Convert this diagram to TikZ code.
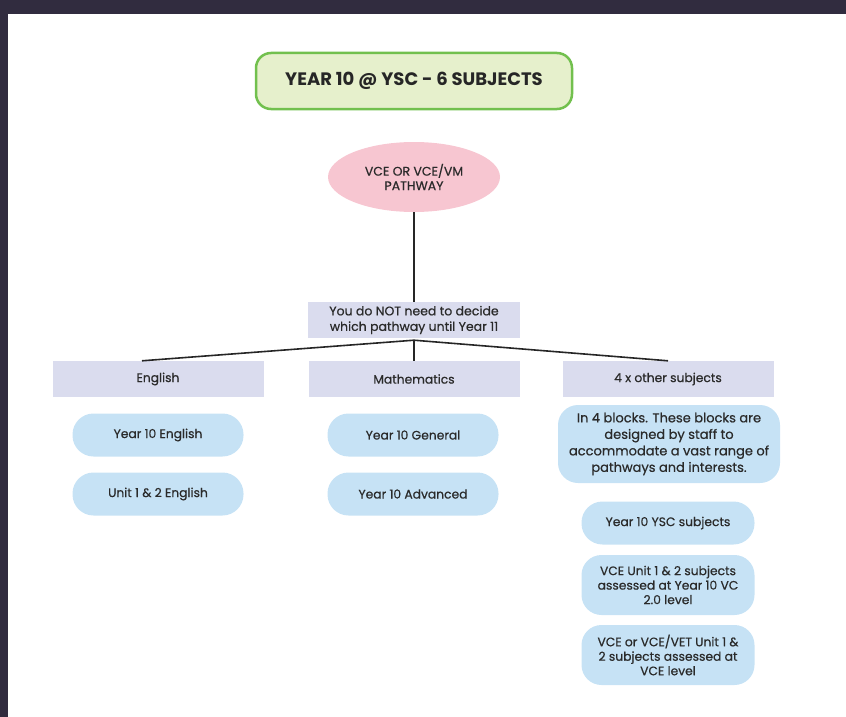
\documentclass[tikz,border=0pt]{standalone}
\usepackage{fontspec}
\setmainfont{Poppins}
\newfontfamily\medfont{Poppins}[FakeBold=0.6]
\usetikzlibrary{shapes.geometric,calc}
\definecolor{frame}{HTML}{312C3F}
\definecolor{titlefill}{HTML}{E6F0CC}
\definecolor{titleline}{HTML}{72C04E}
\definecolor{pinkfill}{HTML}{F7C6D1}
\definecolor{lavfill}{HTML}{DADCEE}
\definecolor{bluefill}{HTML}{C6E2F5}
\definecolor{txt}{HTML}{2A2A2A}
\begin{document}
\begin{tikzpicture}[x=1pt,y=-1pt,
  every node/.style={text=txt, font=\medfont\fontsize{12.3}{14.5}\selectfont, align=center, inner sep=0pt},
  catbox/.style={fill=lavfill, minimum width=211pt, minimum height=36pt},
  pill/.style={fill=bluefill, rounded corners=21pt, minimum width=171pt, minimum height=43pt},
  tallpill/.style={fill=bluefill, rounded corners=20pt, minimum width=173pt, minimum height=60pt},
  conn/.style={draw=black!85, line width=1.6pt}]
\useasboundingbox (0,0) rectangle (846,717);
\fill[frame] (0,0) rectangle (846,14);
\fill[frame] (0,0) rectangle (8,717);
% title
\node[draw=titleline, line width=2.5pt, fill=titlefill, rounded corners=15pt,
  minimum width=316pt, minimum height=56pt, font=\fontsize{18}{20}\selectfont\bfseries, text=black!85]
  (title) at (414,81) {YEAR 10 @ YSC - 6 SUBJECTS};
% pathway ellipse
\node[ellipse, fill=pinkfill, minimum width=172pt, minimum height=70pt,
  font=\medfont\fontsize{12.5}{14.5}\selectfont] (pw) at (414,177) {VCE OR VCE/VM\\PATHWAY};
% decision box
\node[fill=lavfill, minimum width=212pt, minimum height=36pt,
  font=\medfont\fontsize{12.5}{15.5}\selectfont] (you) at (414,320) {You do NOT need to decide\\which pathway until Year 11};
% categories
\node[catbox] (eng) at (158,379) {English};
\node[catbox] (math) at (414,379) {Mathematics};
\node[catbox] (oth) at (668,379) {4 x other subjects};
% connectors
\coordinate (j) at ($(you.south)+(0,2)$);
\draw[conn] (pw.south) -- (you.north);
\draw[conn] (j) -- ([xshift=-16pt]eng.north);
\draw[conn] (j) -- (math.north);
\draw[conn] (j) -- (oth.north);
% English
\node[pill] (e1) at (158,435) {Year 10 English};
\node[pill] (e2) at (158,494) {Unit 1 \& 2 English};
% Maths
\node[pill] (m1) at (413,435) {Year 10 General};
\node[pill] (m2) at (413,494) {Year 10 Advanced};
% Others
\node[fill=bluefill, rounded corners=20pt, minimum width=222pt, minimum height=78pt,
  font=\medfont\fontsize{13}{16.5}\selectfont] (o0) at (669,444)
  {In 4 blocks. These blocks are\\designed by staff to\\accommodate a vast range of\\pathways and interests.};
\node[pill, minimum width=173pt] (o1) at (668,523) {Year 10 YSC subjects};
\node[tallpill] (o2) at (668,585) {VCE Unit 1 \& 2 subjects\\assessed at Year 10 VC\\2.0 level};
\node[tallpill] (o3) at (668,655) {VCE or VCE/VET Unit 1 \&\\2 subjects assessed at\\VCE level};
\end{tikzpicture}
\end{document}
